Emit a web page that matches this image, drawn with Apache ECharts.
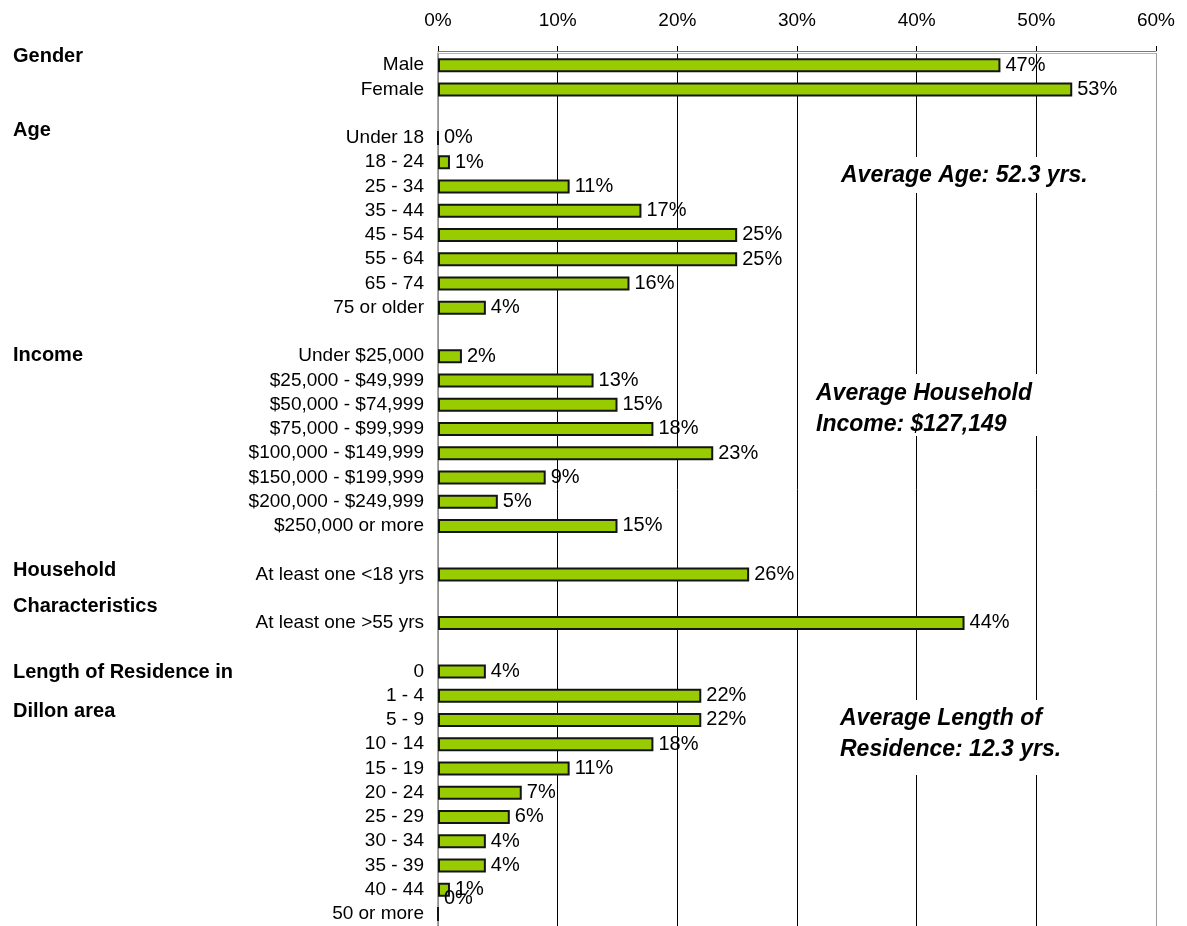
<!DOCTYPE html>
<html>
<head>
<meta charset="utf-8">
<title>Respondent Profile</title>
<script src="https://cdn.jsdelivr.net/npm/echarts@6/dist/echarts.min.js"></script>
<style>
  html, body { margin: 0; padding: 0; background: #fff; }
  #chart { width: 1187px; height: 926px; }
</style>
</head>
<body>
<div id="chart"></div>
<script>
// Survey respondent profile, percent of respondents per group
const genderCats = ['Male', 'Female'];
const genderVals = [47, 53];

const ageCats = ['Under 18', '18 - 24', '25 - 34', '35 - 44', '45 - 54', '55 - 64', '65 - 74', '75 or older'];
const ageVals = [0, 1, 11, 17, 25, 25, 16, 4];

const incomeCats = ['Under $25,000', '$25,000 - $49,999', '$50,000 - $74,999', '$75,000 - $99,999',
  '$100,000 - $149,999', '$150,000 - $199,999', '$200,000 - $249,999', '$250,000 or more'];
const incomeVals = [2, 13, 15, 18, 23, 9, 5, 15];

const householdCats = ['At least one <18 yrs', 'At least one >55 yrs'];
const householdVals = [26, 44];

const residenceCats = ['0', '1 - 4', '5 - 9', '10 - 14', '15 - 19', '20 - 24', '25 - 29', '30 - 34', '35 - 39', '40 - 44', '50 or more'];
const residenceVals = [4, 22, 22, 18, 11, 7, 6, 4, 4, 1, 0];

const xTicks = [0, 10, 20, 30, 40, 50, 60];

// Assemble rows top to bottom, with an empty row between groups
const cats = [];
const vals = [];
let gapNo = 0;
function addGroup(c, v) {
  c.forEach((name, i) => { cats.push(name); vals.push(v[i]); });
}
function addGap() {
  gapNo += 1;
  cats.push(' '.repeat(gapNo));
  vals.push('-');
}
addGroup(genderCats, genderVals); addGap();
addGroup(ageCats, ageVals); addGap();
addGroup(incomeCats, incomeVals); addGap();
addGroup([householdCats[0]], [householdVals[0]]); addGap();
addGroup([householdCats[1]], [householdVals[1]]); addGap();
addGroup(residenceCats, residenceVals);

const sans = '"Liberation Sans", Arial, sans-serif';

const barData = vals.map((v, i) => {
  if (v === '-') return '-';
  // last row's label sits a little higher, next to the row above
  if (i === vals.length - 1) return { value: v, label: { offset: [0, -15] } };
  return v;
});

const gridColors = xTicks.map((t, i) => (i === 0 || i === xTicks.length - 1) ? '#9a9a9a' : '#000');

const chart = echarts.init(document.getElementById('chart'), null, { renderer: 'canvas' });

// Group headings in the left column, one line each
function heading(text, y) {
  return {
    type: 'text', x: 13, y: y,
    style: { text: text, font: 'bold 20px ' + sans, fill: '#000', verticalAlign: 'middle', align: 'left' }
  };
}
// Averages written over the grid on a white patch
function note(lines, x, y0, box) {
  const els = [{
    type: 'rect', z: 90, silent: true,
    shape: { x: box[0], y: box[1], width: box[2], height: box[3] },
    style: { fill: '#fff' }
  }];
  lines.forEach((t, i) => {
    els.push({
      type: 'text', z: 100, x: x, y: y0 + i * 31,
      style: { text: t, font: 'italic bold 23px ' + sans, fill: '#000', verticalAlign: 'middle', align: 'left' }
    });
  });
  return els;
}

chart.setOption({
  animation: false,
  backgroundColor: '#fff',
  grid: { left: 438, right: 31, top: 53, bottom: 0, containLabel: false },
  xAxis: [{
    type: 'value', position: 'top', offset: 2,
    min: 0, max: 60, interval: 10,
    axisLine: { show: true, lineStyle: { color: '#7a7a7a', width: 1 } },
    axisTick: { show: true, inside: false, length: 5, lineStyle: { color: '#000' } },
    axisLabel: { formatter: '{value}%', color: '#000', fontFamily: sans, fontSize: 19, margin: 21 },
    splitLine: { show: true, lineStyle: { color: gridColors, width: 1 } }
  }, {
    // plot-area top edge, just under the axis line
    type: 'value', position: 'top', offset: 0,
    min: 0, max: 60, interval: 10,
    axisLine: { show: true, lineStyle: { color: '#b4b4b4', width: 1 } },
    axisTick: { show: false }, axisLabel: { show: false }, splitLine: { show: false }
  }],
  yAxis: {
    type: 'category', inverse: true, data: cats,
    axisLine: { show: true, lineStyle: { color: '#8c8c8c', width: 1.5 } },
    axisTick: { show: false },
    axisLabel: { color: '#000', fontFamily: sans, fontSize: 19, margin: 14, interval: 0 }
  },
  series: [{
    type: 'bar',
    xAxisIndex: 0,
    data: barData,
    barWidth: 14,
    itemStyle: { color: '#99CC00', borderColor: '#141414', borderWidth: 2 },
    label: {
      show: true, position: 'right', distance: 5,
      formatter: '{c}%', color: '#000', fontFamily: sans, fontSize: 20
    }
  }],
  graphic: [
    heading('Gender', 56),
    heading('Age', 130),
    heading('Income', 355),
    heading('Household', 570),
    heading('Characteristics', 606),
    heading('Length of Residence in', 672),
    heading('Dillon area', 711)
  ]
    .concat(note(['Average Age: 52.3 yrs.'], 841, 176, [834, 157, 270, 36]))
    .concat(note(['Average Household', 'Income: $127,149'], 816, 394, [810, 374, 240, 62]))
    .concat(note(['Average Length of', 'Residence: 12.3 yrs.'], 840, 719, [834, 700, 250, 75]))
});
</script>
</body>
</html>
